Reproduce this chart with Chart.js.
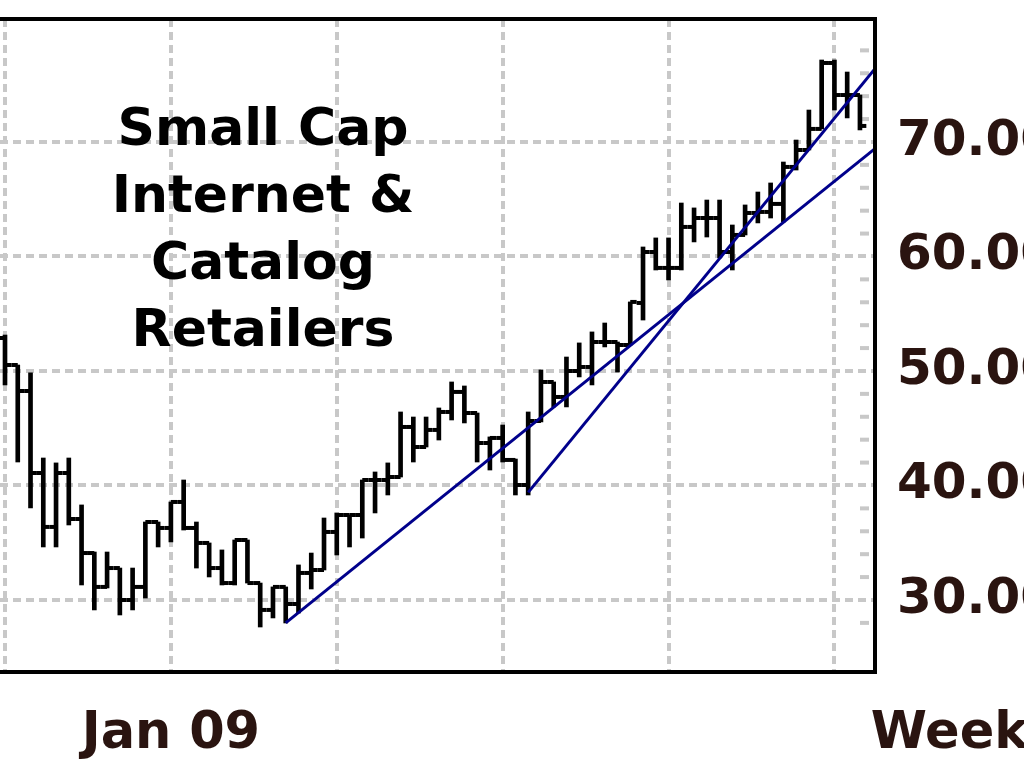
<!DOCTYPE html>
<html>
<head>
<meta charset="utf-8">
<script src="https://cdn.jsdelivr.net/npm/chart.js@4.4.1/dist/chart.umd.min.js"></script>
<style>
  html, body { margin: 0; padding: 0; background: #fff; }
  #wrap { width: 1024px; height: 768px; overflow: hidden; }
</style>
</head>
<body>
<div id="wrap"><canvas id="myChart" width="1024" height="768"></canvas></div>
<script>
// weekly bars, oldest first
let opens = [52.88, 50.52, 48.25, 41.09, 36.38, 41.09, 37.07, 34.10, 31.14, 32.79,
  30.00, 31.14, 36.81, 36.29, 38.56, 36.29, 34.98, 32.79, 31.48, 35.24,
  31.48, 29.13, 31.14, 29.65, 32.36, 32.62, 35.94, 37.42, 37.42, 40.48,
  40.48, 40.74, 45.11, 43.36, 44.85, 46.42, 48.17, 46.33, 43.71, 44.15,
  42.23, 40.04, 45.63, 49.04, 47.73, 50.00, 50.35, 52.53, 52.53, 52.27,
  55.94, 60.39, 59.00, 59.00, 62.58, 63.36, 63.36, 60.39, 61.88, 63.80,
  63.89, 64.59, 67.82, 69.30, 71.14, 76.90, 74.10, 74.10];
let highs = [53.14, 50.52, 49.83, 42.40, 41.97, 42.40, 38.30, 34.19, 34.19, 32.79,
  32.79, 36.81, 36.81, 38.56, 40.48, 36.81, 34.98, 34.37, 35.24, 35.24,
  31.48, 31.14, 31.14, 33.06, 34.10, 37.16, 37.60, 37.42, 40.48, 41.18,
  41.97, 46.42, 45.98, 45.98, 46.77, 49.04, 48.69, 46.33, 44.24, 45.28,
  42.31, 46.42, 50.09, 49.04, 51.22, 52.45, 53.41, 54.19, 52.53, 56.03,
  60.83, 61.62, 61.62, 64.67, 64.24, 64.93, 64.93, 62.75, 64.50, 65.63,
  66.42, 68.25, 70.17, 72.79, 77.16, 77.16, 76.11, 74.10];
let lows = [48.78, 42.05, 38.03, 34.63, 34.63, 36.55, 31.31, 29.13, 31.05, 28.69,
  29.13, 30.17, 34.63, 35.07, 36.11, 32.79, 32.01, 31.31, 31.31, 31.48,
  27.64, 28.43, 27.99, 28.86, 30.96, 32.62, 33.93, 34.63, 35.41, 37.60,
  39.17, 40.74, 42.05, 43.36, 43.97, 45.72, 45.46, 42.05, 41.35, 42.05,
  39.17, 39.17, 45.55, 46.86, 46.86, 49.48, 48.78, 52.10, 49.91, 52.27,
  54.45, 58.82, 57.95, 58.82, 61.27, 61.70, 59.87, 58.82, 61.88, 62.93,
  63.36, 63.01, 67.55, 69.30, 71.14, 72.79, 72.10, 71.05];
let closes = [50.52, 48.25, 41.09, 36.38, 41.09, 37.07, 34.10, 31.14, 32.79, 30.00,
  31.14, 36.81, 36.29, 38.56, 36.29, 34.98, 32.79, 31.48, 35.24, 31.48,
  29.13, 31.14, 29.65, 32.36, 32.62, 35.94, 37.42, 37.42, 40.48, 40.48,
  40.74, 45.11, 43.36, 44.85, 46.42, 48.17, 46.33, 43.71, 44.15, 42.23,
  40.04, 45.63, 49.04, 47.73, 50.00, 50.35, 52.53, 52.53, 52.27, 56.03,
  60.39, 59.00, 59.00, 62.58, 63.36, 63.36, 60.39, 61.88, 63.80, 63.89,
  64.59, 67.82, 69.30, 71.14, 76.90, 74.10, 74.10, 71.40];

// quarter gridlines (week index) and their labels
let quarterStarts = [0, 13, 26, 39, 52, 65];
let quarterLabels = ['', 'Jan 09', '', '', '', ''];
let periodLabel = 'Weekly';
let yTickValues = [30, 40, 50, 60, 70];
let titleLines = ['Small Cap', 'Internet &', 'Catalog', 'Retailers'];

// trend lines [week index, price]
let trendLower = [{x: 22, y: 28.0}, {x: 68.18, y: 69.42}];
let trendUpper = [{x: 41, y: 39.4}, {x: 68.18, y: 76.4}];

let labelColor = '#2a1410';
let gridColor = '#c8c8c8';
Chart.defaults.font.family = '"DejaVu Sans", Verdana, sans-serif';

const chartExtras = {
  id: 'chartExtras',
  beforeDatasetsDraw(chart) {
    const {ctx, chartArea, scales: {y}} = chart;
    ctx.save();
    // small minor ticks inside the right edge
    ctx.fillStyle = gridColor;
    for (let v = 28; v <= 78; v += 2) {
      if (v % 10 === 0) continue;
      ctx.fillRect(chartArea.right - 15, y.getPixelForValue(v) - 2, 9, 4);
    }
    // chart caption
    ctx.fillStyle = '#000';
    ctx.font = 'bold 52px "DejaVu Sans"';
    ctx.textAlign = 'center';
    ctx.textBaseline = 'alphabetic';
    titleLines.forEach((t, k) => ctx.fillText(t, 263, 145 + k * 67));
    ctx.restore();
  },
  afterDraw(chart) {
    const {ctx, chartArea: a} = chart;
    ctx.save();
    ctx.fillStyle = '#000';
    ctx.fillRect(0, a.top - 2, a.right + 2, 4);
    ctx.fillRect(a.right - 2, a.top - 2, 4, a.bottom - a.top + 4);
    ctx.fillRect(0, a.bottom - 2, a.right + 2, 4);
    ctx.restore();
  }
};

let chart = new Chart(document.querySelector('#myChart'), {
  type: 'bar',
  data: {
    datasets: [
      { type: 'line', data: trendLower, borderColor: '#00008b', borderWidth: 3, pointRadius: 0, order: 0 },
      { type: 'line', data: trendUpper, borderColor: '#00008b', borderWidth: 3, pointRadius: 0, order: 0 },
      {
        type: 'bar',
        data: highs.map((h, i) => ({x: i, y: [lows[i], h]})),
        backgroundColor: '#000',
        barThickness: 4,
        order: 1
      },
      {
        type: 'scatter',
        data: opens.map((o, i) => ({x: i - 0.25, y: o})),
        pointStyle: 'line', pointRadius: 3.2, pointBorderWidth: 4, pointBorderColor: '#000',
        order: 1
      },
      {
        type: 'scatter',
        data: closes.map((c, i) => ({x: i + 0.25, y: c})),
        pointStyle: 'line', pointRadius: 3.2, pointBorderWidth: 4, pointBorderColor: '#000',
        order: 1
      }
    ]
  },
  options: {
    responsive: false,
    devicePixelRatio: 1,
    animation: false,
    layout: { autoPadding: false, padding: { top: 19, left: 0, right: 0, bottom: 0 } },
    plugins: { legend: { display: false }, tooltip: { enabled: false } },
    scales: {
      x: {
        type: 'linear',
        offset: false,
        min: -0.392,
        max: 68.18,
        afterBuildTicks: s => { s.ticks = quarterStarts.map(v => ({value: v})).concat([{value: 76}]); },
        afterFit: s => { s.height = 96; s.paddingLeft = 0; s.paddingRight = 0; },
        ticks: {
          autoSkip: false, maxRotation: 0, minRotation: 0, padding: 32,
          color: labelColor, font: { size: 51, weight: 'bold' },
          callback: (v, idx) => idx < quarterLabels.length ? quarterLabels[idx] : periodLabel
        },
        grid: {
          offset: false, lineWidth: 4, drawTicks: false,
          color: c => (c.tick && c.tick.value > 68.18) ? 'rgba(0,0,0,0)' : gridColor
        },
        border: { display: false, dash: [8, 5] }
      },
      y: {
        type: 'linear',
        position: 'right',
        min: 23.71,
        max: 80.74,
        afterBuildTicks: s => { s.ticks = yTickValues.map(v => ({value: v})); },
        afterFit: s => { s.width = 149; s.paddingTop = 0; s.paddingBottom = 0; },
        ticks: {
          padding: 22, color: labelColor, font: { size: 50, weight: 'bold' },
          callback: v => v.toFixed(2)
        },
        grid: { color: gridColor, lineWidth: 4, drawTicks: false },
        border: { display: false, dash: [8, 5] }
      }
    }
  },
  plugins: [chartExtras]
});
</script>
</body>
</html>
